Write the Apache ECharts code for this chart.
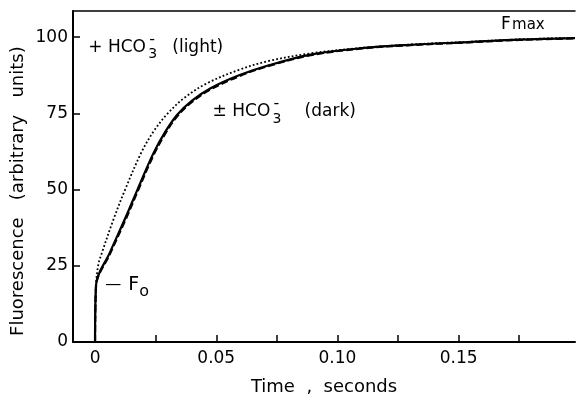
<!DOCTYPE html>
<html>
<head>
<meta charset="utf-8">
<script src="https://cdn.jsdelivr.net/npm/echarts@6/dist/echarts.min.js"></script>
<style>
html,body{margin:0;padding:0;background:#fff;}
#c{width:576px;height:394px;}
</style>
</head>
<body>
<div id="c"></div>
<script>
// ---- data ----
const timeDark   = [0, 0.0004, 0.0062, 0.0124, 0.0175, 0.024, 0.029, 0.0338, 0.04, 0.0475, 0.0594, 0.0717, 0.089, 0.11, 0.13, 0.154, 0.175, 0.198];
const fDarkSolid = [0, 18.7, 29.5, 40.5, 50, 61.8, 69, 74.5, 79.2, 83.2, 87.5, 90.8, 94.3, 96.4, 97.5, 98.4, 99.2, 99.7];
const fDarkDash  = [0, 18.3, 29, 39.8, 49.3, 61.1, 68.4, 74, 78.8, 82.8, 87.2, 90.6, 94.1, 96.3, 97.4, 98.3, 99.1, 99.6];
const timeLight  = [0, 0.0004, 0.0014, 0.0028, 0.0075, 0.0124, 0.0193, 0.0245, 0.030, 0.037, 0.046, 0.0594, 0.0717, 0.089, 0.11, 0.13, 0.154, 0.175, 0.198];
const fLight     = [0, 18.7, 25.6, 29.2, 40, 50, 62.5, 69.5, 75, 80.2, 84.8, 89.3, 92.2, 94.7, 96.5, 97.6, 98.5, 99.3, 99.8];
const xLabelValues = [0, 0.05, 0.10, 0.15];
const xLabelTexts  = ['0', '0.05', '0.10', '0.15'];
const xTickValues  = [0, 0.025, 0.05, 0.075, 0.10, 0.125, 0.15, 0.175];
const yTickValues  = [0, 25, 50, 75, 100];

const FONT = 'DejaVu Sans';
const pairs = (xs, ys) => xs.map((x, i) => [x, ys[i]]);

const chart = echarts.init(document.getElementById('c'), null, {renderer: 'canvas'});

chart.setOption({
  animation: false,
  backgroundColor: '#fff',
  grid: {left: 73, right: 1, top: 11, bottom: 52, containLabel: false, outerBoundsMode: 'none'},
  xAxis: [{
    type: 'value', min: -0.0091, max: 0.198,
    axisLine: {show: true, onZero: false, lineStyle: {color: '#000', width: 2}},
    splitLine: {show: false},
    axisTick: {show: true, inside: true, length: 7, lineStyle: {color: '#000', width: 1.5}, customValues: xTickValues},
    axisLabel: {
      color: '#000', fontFamily: FONT, fontSize: 17, margin: 8,
      customValues: xLabelValues,
      formatter: v => { const i = xLabelValues.findIndex(a => Math.abs(a - v) < 1e-9); return i >= 0 ? xLabelTexts[i] : ''; }
    },
    name: 'Time  ,  seconds', nameLocation: 'middle', nameGap: 36,
    nameTextStyle: {color: '#000', fontFamily: FONT, fontSize: 18}
  }, {
    type: 'value', position: 'top', min: -0.0091, max: 0.198,
    axisLine: {show: true, onZero: false, lineStyle: {color: '#000', width: 1.5}},
    axisTick: {show: false}, axisLabel: {show: false}, splitLine: {show: false}
  }],
  yAxis: {
    type: 'value', min: 0, max: 108.6,
    axisLine: {show: true, onZero: false, lineStyle: {color: '#000', width: 2}},
    splitLine: {show: false},
    axisTick: {show: true, inside: true, length: 7, lineStyle: {color: '#000', width: 1.5}, customValues: yTickValues},
    axisLabel: {color: '#000', fontFamily: FONT, fontSize: 17, margin: 5, customValues: yTickValues}
  },
  series: [
    {type: 'line', name: 'light', data: pairs(timeLight, fLight), showSymbol: false, smooth: 0.35,
     lineStyle: {color: '#000', width: 1.8, type: [1.8, 2.2]}, z: 3},
    {type: 'line', name: 'dark dashed', data: pairs(timeDark, fDarkDash), showSymbol: false, smooth: 0.35,
     lineStyle: {color: '#000', width: 2.2, type: [7, 3]}, z: 2},
    {type: 'line', name: 'dark', data: pairs(timeDark, fDarkSolid), showSymbol: false, smooth: 0.35,
     lineStyle: {color: '#000', width: 2.2}, z: 4}
  ]
});

// annotations placed by data coordinates
function px(t, f) { return chart.convertToPixel({xAxisIndex: 0, yAxisIndex: 0}, [t, f]); }
const ts = (size) => ({fill: '#000', font: (size || 16) + 'px "' + FONT + '"', textVerticalAlign: 'middle'});
function txt(x, y, s, size, align) {
  return {type: 'text', x: x, y: y, style: Object.assign(ts(size), {text: s, textAlign: align || 'left'}), z: 10};
}
const a1 = px(-0.0028, 96.6);  // "+ HCO3- (light)"
const a2 = px(0.0485, 75.5);   // "± HCO3- (dark)"
const a3 = px(0.0042, 18.8);   // "— Fo"
const a4 = px(0.1675, 104.3);  // "Fmax"
const els = [];
els.push(txt(a1[0], a1[1], '+ HCO', 17));
els.push(txt(a1[0] + 60, a1[1] + 7, '3', 14));
els.push(txt(a1[0] + 61, a1[1] - 8, '-', 16));
els.push(txt(a1[0] + 84, a1[1], '(light)', 17));
els.push(txt(a2[0], a2[1], '± HCO', 17));
els.push(txt(a2[0] + 60, a2[1] + 7, '3', 14));
els.push(txt(a2[0] + 61, a2[1] - 8, '-', 16));
els.push(txt(a2[0] + 92, a2[1], '(dark)', 17));
els.push(txt(a3[0], a3[1], '—', 16));
els.push(txt(a3[0] + 23, a3[1], 'F', 19));
els.push(txt(a3[0] + 34, a3[1] + 7, 'o', 16));
els.push(txt(a4[0], a4[1], 'F', 17));
els.push(txt(a4[0] + 11, a4[1] + 1, 'max', 15));
// y axis title (rotated), centred where the reference has it
const yMid = px(0, 49.5)[1];
els.push({type: 'text', x: 18, y: yMid, rotation: Math.PI / 2,
  style: {text: 'Fluorescence   (arbitrary   units)', fill: '#000', font: '18px "' + FONT + '"', textAlign: 'center', textVerticalAlign: 'middle'}, z: 10});
chart.setOption({graphic: {elements: els}});
</script>
</body>
</html>
